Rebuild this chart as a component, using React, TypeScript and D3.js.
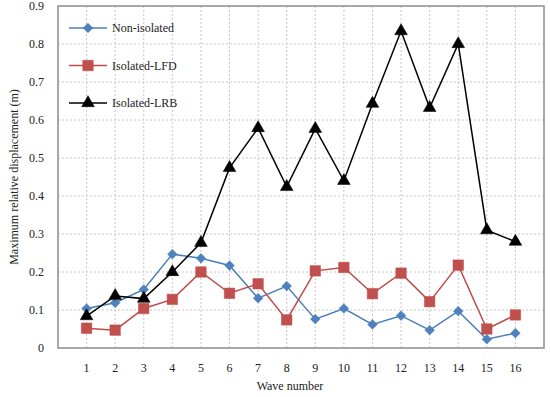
import React, { useRef, useEffect } from "react";
import * as d3 from "d3";

const waves = [1, 2, 3, 4, 5, 6, 7, 8, 9, 10, 11, 12, 13, 14, 15, 16];
const nonIsolated = [0.104, 0.119, 0.154, 0.247, 0.236, 0.217, 0.131, 0.163, 0.076, 0.104, 0.062, 0.085, 0.047, 0.097, 0.023, 0.039];
const isolatedLFD = [0.052, 0.047, 0.104, 0.128, 0.2, 0.144, 0.169, 0.074, 0.203, 0.212, 0.143, 0.197, 0.122, 0.218, 0.05, 0.087];
const isolatedLRB = [0.084, 0.137, 0.13, 0.2, 0.277, 0.474, 0.579, 0.424, 0.577, 0.44, 0.643, 0.834, 0.632, 0.8, 0.31, 0.28];
const yTicks = [0, 0.1, 0.2, 0.3, 0.4, 0.5, 0.6, 0.7, 0.8, 0.9];

const seriesList = [
  { name: "Non-isolated", values: nonIsolated, color: "#4A7EBB", fill: "#4F81BD", marker: "diamond" },
  { name: "Isolated-LFD", values: isolatedLFD, color: "#BE4B48", fill: "#C0504D", marker: "square" },
  { name: "Isolated-LRB", values: isolatedLRB, color: "#000000", fill: "#000000", marker: "triangle" },
];

export default function App() {
  const svgRef = useRef<SVGSVGElement>(null);

  useEffect(() => {
    const width = 550;
    const height = 397;
    const margin = { left: 58, right: 6, top: 6, bottom: 49 };
    const font = "'Liberation Serif', 'Times New Roman', serif";
    const fs = "12px";

    const svg = d3.select(svgRef.current);
    svg.selectAll("*").remove();
    svg.attr("width", width).attr("height", height);

    const x = d3.scaleLinear().domain([0, waves.length + 1]).range([margin.left, width - margin.right]);
    const y = d3.scaleLinear().domain([0, 0.9]).range([height - margin.bottom, margin.top]);

    svg.append("rect").attr("width", width).attr("height", height).attr("fill", "#fff");

    // grid
    const grid = svg.append("g");
    grid.selectAll("line.h")
      .data(yTicks.slice(1, -1))
      .join("line")
      .attr("x1", x.range()[0]).attr("x2", x.range()[1])
      .attr("y1", (d) => y(d)).attr("y2", (d) => y(d))
      .attr("stroke", "#c8c8c8").attr("stroke-dasharray", "2,2");
    grid.selectAll("line.v")
      .data(waves)
      .join("line")
      .attr("x1", (d) => x(d)).attr("x2", (d) => x(d))
      .attr("y1", y.range()[0]).attr("y2", y.range()[1])
      .attr("stroke", "#c8c8c8").attr("stroke-dasharray", "2,2");

    // frame
    svg.append("rect")
      .attr("x", x.range()[0]).attr("y", y.range()[1])
      .attr("width", x.range()[1] - x.range()[0])
      .attr("height", y.range()[0] - y.range()[1])
      .attr("fill", "none").attr("stroke", "#8c8c8c").attr("stroke-width", 1.5);

    // y tick labels
    svg.append("g")
      .selectAll("text")
      .data(yTicks)
      .join("text")
      .attr("x", 44).attr("y", (d) => y(d) + 4)
      .attr("text-anchor", "end")
      .style("font-family", font).style("font-size", fs).attr("fill", "#222")
      .text((d) => (d === 0 ? "0" : d3.format(".1f")(d)));

    // x tick labels
    svg.append("g")
      .selectAll("text")
      .data(waves)
      .join("text")
      .attr("x", (d) => x(d)).attr("y", 372)
      .attr("text-anchor", "middle")
      .style("font-family", font).style("font-size", fs).attr("fill", "#222")
      .text((d) => d);

    svg.append("text")
      .attr("x", 290).attr("y", 390)
      .attr("text-anchor", "middle")
      .style("font-family", font).style("font-size", fs).attr("fill", "#222")
      .text("Wave number");

    svg.append("text")
      .attr("transform", `translate(18, 177) rotate(-90)`)
      .attr("text-anchor", "middle")
      .style("font-family", font).style("font-size", fs).attr("fill", "#222")
      .text("Maximum relative displacement (m)");

    const symbolFor = (m: string) =>
      m === "diamond"
        ? d3.symbol().type(d3.symbolDiamond2).size(60)
        : m === "square"
        ? d3.symbol().type(d3.symbolSquare).size(110)
        : d3.symbol().type(d3.symbolTriangle).size(70);

    const line = d3.line<number>().x((_, i) => x(waves[i])).y((d) => y(d));

    seriesList.forEach((s) => {
      const g = svg.append("g");
      g.append("path")
        .datum(s.values)
        .attr("d", line)
        .attr("fill", "none")
        .attr("stroke", s.color)
        .attr("stroke-width", 1.5);
      g.selectAll("path.m")
        .data(s.values)
        .join("path")
        .attr("class", "m")
        .attr("transform", (d, i) => `translate(${x(waves[i])},${y(d)})`)
        .attr("d", symbolFor(s.marker)())
        .attr("fill", s.fill)
        .attr("stroke", s.color)
        .attr("stroke-width", 0.5);
    });

    // legend
    const legend = svg.append("g");
    seriesList.forEach((s, i) => {
      const ly = 28 + i * 37.5;
      legend.append("line")
        .attr("x1", 69).attr("x2", 107).attr("y1", ly).attr("y2", ly)
        .attr("stroke", s.color).attr("stroke-width", 1.5);
      legend.append("path")
        .attr("transform", `translate(88,${ly})`)
        .attr("d", symbolFor(s.marker)())
        .attr("fill", s.fill).attr("stroke", s.color).attr("stroke-width", 0.5);
      legend.append("text")
        .attr("x", 112).attr("y", ly + 4)
        .style("font-family", font).style("font-size", fs).attr("fill", "#222")
        .text(s.name);
    });
  }, []);

  return <svg ref={svgRef} style={{ position: "absolute", left: 0, top: 0 }}></svg>;
}
